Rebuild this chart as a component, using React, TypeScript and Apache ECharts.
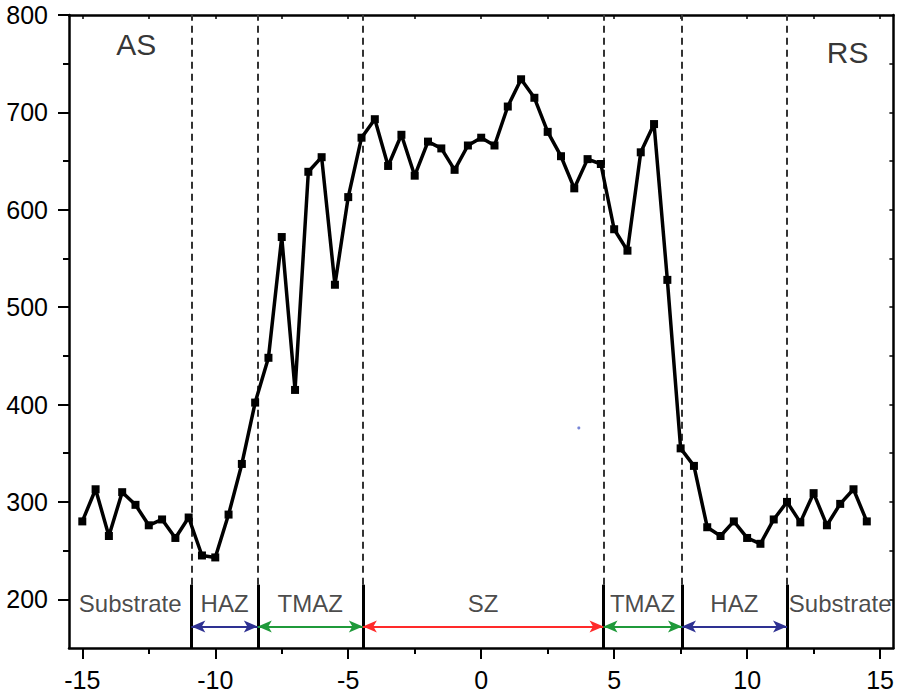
import React, { useEffect, useRef } from "react";
import * as echarts from "echarts";

// ---- data ----
const positions = [
  -15, -14.5, -14, -13.5, -13, -12.5, -12, -11.5, -11, -10.5,
  -10, -9.5, -9, -8.5, -8, -7.5, -7, -6.5, -6, -5.5,
  -5, -4.5, -4, -3.5, -3, -2.5, -2, -1.5, -1, -0.5,
  0, 0.5, 1, 1.5, 2, 2.5, 3, 3.5, 4, 4.5,
  5, 5.5, 6, 6.5, 7, 7.5, 8, 8.5, 9, 9.5,
  10, 10.5, 11, 11.5, 12, 12.5, 13, 13.5, 14, 14.5,
];
const hardness = [
  280, 313, 265, 310, 297, 276, 282, 263, 284, 245,
  243, 287, 339, 402, 448, 572, 415, 639, 654, 523,
  613, 674, 693, 645, 677, 635, 670, 663, 641, 666,
  674, 666, 706, 734, 715, 680, 655, 622, 652, 647,
  580, 558, 659, 688, 528, 355, 337, 274, 265, 280,
  263, 257, 282, 300, 279, 309, 276, 298, 313, 280,
];
const xMajorTicks = [-15, -10, -5, 0, 5, 10, 15];
const xMinorTicks = [-12.5, -7.5, -2.5, 2.5, 7.5, 12.5];
const xTopTicks = [-15, -12.5, -10, -7.5, -5, -2.5, 0, 2.5, 5, 7.5, 10, 12.5, 15];
const yMajorTicks = [200, 300, 400, 500, 600, 700, 800];
const yMinorTicks = [250, 350, 450, 550, 650, 750];
const yRightTicks = [200, 250, 300, 350, 400, 450, 500, 550, 600, 650, 700, 750];
const boundaries = [-10.9, -8.4, -4.45, 4.6, 7.55, 11.5];
const boundarySplit = 215;
const zoneNames = ["Substrate", "HAZ", "TMAZ", "SZ", "TMAZ", "HAZ", "Substrate"];
const zoneCenters = [-13.2, -9.65, -6.43, 0.07, 6.07, 9.52, 13.5];
const zoneLabelY = 196;
const arrowStarts = [-10.9, -8.4, -4.45, 4.6, 7.55];
const arrowEnds = [-8.4, -4.45, 4.6, 7.55, 11.5];
const arrowColors = ["#2e3192", "#1f9a3a", "#ff2a2a", "#1f9a3a", "#2e3192"];
const arrowY = 172;
const sideLabels = ["AS", "RS"];
const sideLabelX = [-12.97, 13.78];
const sideLabelY = [770, 762];
const strayPoint = [3.67, 376];

const X_MIN = -15.5;
const X_MAX = 15.5;
const Y_MIN = 150;
const Y_MAX = 800;
const FONT = "'Liberation Sans', Arial, sans-serif";
const TEXT = "#000";

export default function App() {
  const ref = useRef<HTMLDivElement>(null);
  useEffect(() => {
    if (!ref.current) return;
    const chart = echarts.init(ref.current, undefined, { renderer: "svg" });
    const axisLine = { show: true, onZero: false, lineStyle: { color: "#000", width: 2.5 } };
    const noLine = { show: false, onZero: false };
    const xBase = { type: "value", min: X_MIN, max: X_MAX, splitLine: { show: false } };
    const yBase = { type: "value", min: Y_MIN, max: Y_MAX, splitLine: { show: false } };

    const option: any = {
      animation: false,
      backgroundColor: "#fff",
      grid: { left: 69, right: 2, top: 15, bottom: 48, containLabel: false },
      xAxis: [
        {
          ...xBase,
          position: "bottom",
          axisLine,
          axisTick: { show: true, inside: false, length: 11, customValues: xMajorTicks, lineStyle: { color: "#000", width: 2 } },
          axisLabel: { show: true, customValues: xMajorTicks, margin: 19, fontSize: 25, fontFamily: FONT, color: TEXT },
        },
        {
          ...xBase,
          position: "bottom",
          axisLine: noLine,
          axisTick: { show: true, inside: false, length: 6, customValues: xMinorTicks, lineStyle: { color: "#000", width: 2 } },
          axisLabel: { show: false },
        },
        {
          ...xBase,
          position: "top",
          axisLine,
          axisTick: { show: true, inside: true, length: 4, customValues: xTopTicks, lineStyle: { color: "#000", width: 1.5 } },
          axisLabel: { show: false },
        },
      ],
      yAxis: [
        {
          ...yBase,
          position: "left",
          axisLine,
          axisTick: { show: true, inside: false, length: 11, customValues: yMajorTicks, lineStyle: { color: "#000", width: 2 } },
          axisLabel: { show: true, customValues: yMajorTicks, margin: 21, fontSize: 25, fontFamily: FONT, color: TEXT },
        },
        {
          ...yBase,
          position: "left",
          axisLine: noLine,
          axisTick: { show: true, inside: false, length: 6, customValues: yMinorTicks, lineStyle: { color: "#000", width: 2 } },
          axisLabel: { show: false },
        },
        {
          ...yBase,
          position: "right",
          axisLine,
          axisTick: { show: true, inside: true, length: 4, customValues: yRightTicks, lineStyle: { color: "#000", width: 1.5 } },
          axisLabel: { show: false },
        },
      ],
      series: [
        {
          type: "line",
          name: "boundaries",
          xAxisIndex: 0,
          yAxisIndex: 0,
          data: [],
          silent: true,
          markLine: {
            silent: true,
            symbol: ["none", "none"],
            label: { show: false },
            data: [
              ...boundaries.map((b) => [
                { coord: [b, boundarySplit], lineStyle: { color: "#333", width: 2, type: [7, 5] } },
                { coord: [b, Y_MAX] },
              ]),
              ...boundaries.map((b) => [
                { coord: [b, Y_MIN], lineStyle: { color: "#000", width: 3, type: "solid" } },
                { coord: [b, boundarySplit] },
              ]),
            ],
          },
        },
        {
          type: "line",
          name: "arrows",
          xAxisIndex: 0,
          yAxisIndex: 0,
          data: [],
          silent: true,
          markLine: {
            silent: true,
            symbol: ["arrow", "arrow"],
            symbolSize: [9, 14],
            label: { show: false },
            data: arrowStarts.map((s, i) => [
              { coord: [s, arrowY], lineStyle: { color: arrowColors[i], width: 1.8, type: "solid" }, itemStyle: { color: arrowColors[i] } },
              { coord: [arrowEnds[i], arrowY] },
            ]),
          },
        },
        {
          type: "line",
          name: "Hardness",
          xAxisIndex: 0,
          yAxisIndex: 0,
          data: positions.map((p, i) => [p, hardness[i]]),
          symbol: "rect",
          symbolSize: 8,
          showAllSymbol: true,
          lineStyle: { color: "#000", width: 3.5 },
          itemStyle: { color: "#000" },
          z: 5,
        },
        {
          type: "scatter",
          name: "zones",
          xAxisIndex: 0,
          yAxisIndex: 0,
          silent: true,
          symbolSize: 1,
          itemStyle: { color: "rgba(0,0,0,0)" },
          label: { show: true, position: "inside", formatter: "{b}", fontSize: 24, fontFamily: FONT, color: "#1a1a1a" },
          data: zoneNames.map((n, i) => ({ name: n, value: [zoneCenters[i], zoneLabelY] })),
        },
        {
          type: "scatter",
          name: "sides",
          xAxisIndex: 0,
          yAxisIndex: 0,
          silent: true,
          symbolSize: 1,
          itemStyle: { color: "rgba(0,0,0,0)" },
          label: { show: true, position: "inside", formatter: "{b}", fontSize: 30, fontFamily: FONT, color: "#000" },
          data: sideLabels.map((n, i) => ({ name: n, value: [sideLabelX[i], sideLabelY[i]] })),
        },
        {
          type: "scatter",
          name: "stray",
          xAxisIndex: 0,
          yAxisIndex: 0,
          silent: true,
          symbol: "circle",
          symbolSize: 3,
          itemStyle: { color: "#5566cc" },
          data: [strayPoint],
        },
      ],
    };
    chart.setOption(option);
    return () => chart.dispose();
  }, []);
  return (
    <div
      ref={ref}
      style={{ position: "fixed", left: 0, top: 0, width: 897, height: 696, background: "#fff" }}
    />
  );
}
